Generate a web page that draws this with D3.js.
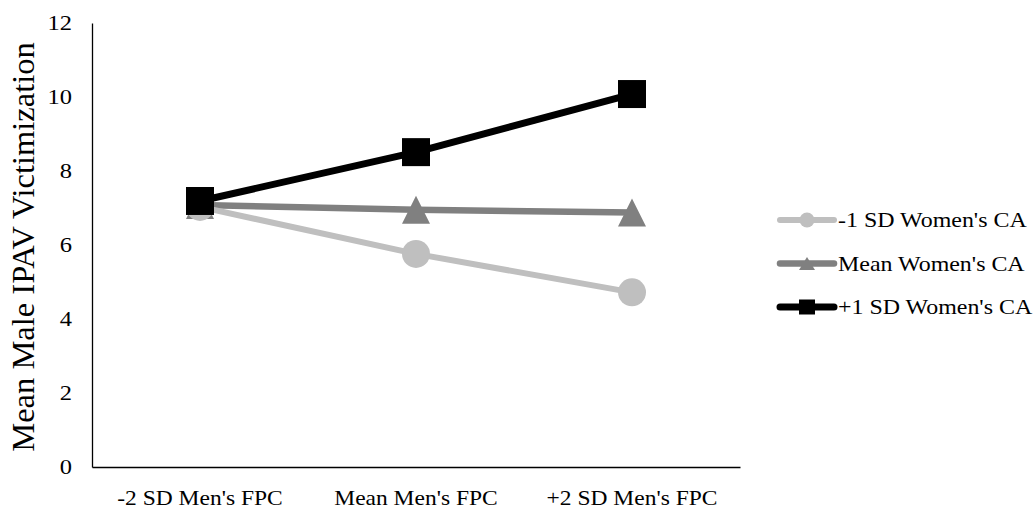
<!DOCTYPE html>
<html><head><meta charset="utf-8">
<script src="https://cdn.jsdelivr.net/npm/d3@7"></script>
<style>body{margin:0;background:#fff}svg{display:block}</style>
</head><body>
<svg id="c" width="1036" height="510"></svg>
<script>
const categories = ["-2 SD Men's FPC", "Mean Men's FPC", "+2 SD Men's FPC"];
const seriesNames = ["-1 SD Women's CA", "Mean Women's CA", "+1 SD Women's CA"];
const lowValues = [7.03, 5.76, 4.72];
const meanValues = [7.08, 6.95, 6.88];
const highValues = [7.19, 8.51, 10.08];
const yTicks = [0, 2, 4, 6, 8, 10, 12];

const FONT = "'Liberation Serif', 'Times New Roman', serif";
const SX = 1.14; // horizontal stretch of text in the reference
const svg = d3.select("#c");
const x = d3.scaleBand().domain(categories).range([92, 740]);
const y = d3.scaleLinear().domain([0, 12]).range([467, 23]);
const cx = d => x(d) + x.bandwidth() / 2;

const series = [
  {name: seriesNames[0], values: lowValues, color: "#bfbfbf", width: 6, shape: "circle"},
  {name: seriesNames[1], values: meanValues, color: "#808080", width: 6.5, shape: "triangle"},
  {name: seriesNames[2], values: highValues, color: "#000000", width: 7, shape: "square"}
];

// axes
const yAxis = d3.axisLeft(y).tickValues(yTicks).tickSize(0).tickPadding(0);
const gy = svg.append("g").attr("transform", "translate(92,0)").call(yAxis)
  .attr("font-family", FONT).attr("font-size", 21.5);
gy.select(".domain").attr("stroke", "#000").attr("stroke-width", 1.3);
gy.selectAll("text").attr("fill", "#000").attr("x", null)
  .attr("transform", `translate(-20,0) scale(${SX},1)`);

const xAxis = d3.axisBottom(x).tickSize(0).tickPadding(23);
const gx = svg.append("g").attr("transform", "translate(0,467)").call(xAxis)
  .attr("font-family", FONT).attr("font-size", 21);
gx.select(".domain").attr("stroke", "#000").attr("stroke-width", 1.3);
gx.selectAll("text").attr("fill", "#000").attr("transform", `scale(1.12,1)`);

svg.append("text").attr("transform", `translate(34,247) rotate(-90)`)
  .attr("text-anchor", "middle").attr("font-size", 32.5).attr("font-family", FONT).attr("fill", "#000")
  .text("Mean Male IPAV Victimization");

function markerPath(shape, w, h) {
  if (shape === "circle") return d3.arc()({innerRadius: 0, outerRadius: w / 2, startAngle: 0, endAngle: 2 * Math.PI});
  if (shape === "triangle") return `M0,${-h / 2}L${w / 2},${h / 2}L${-w / 2},${h / 2}Z`;
  return `M${-w / 2},${-h / 2}h${w}v${h}h${-w}Z`;
}

const line = d3.line().x((d, i) => cx(categories[i])).y(d => y(d));
// draw mean first, then low, then high on top
[series[1], series[0], series[2]].forEach(s => {
  const g = svg.append("g");
  g.append("path").attr("d", line(s.values)).attr("fill", "none")
    .attr("stroke", s.color).attr("stroke-width", s.width).attr("stroke-linejoin", "round");
  g.selectAll("path.m").data(s.values).enter().append("path").attr("class", "m")
    .attr("d", markerPath(s.shape, 28, 28))
    .attr("transform", (d, i) => `translate(${cx(categories[i])},${y(d)})`)
    .attr("fill", s.color);
});

// legend
const lg = svg.append("g");
series.forEach((s, i) => {
  const ly = 220 + i * 43.5;
  lg.append("line").attr("x1", 780).attr("x2", 834).attr("y1", ly).attr("y2", ly)
    .attr("stroke", s.color).attr("stroke-width", s.width).attr("stroke-linecap", "round");
  const w = s.shape === "circle" ? 15 : 16;
  const h = s.shape === "circle" ? 15 : s.shape === "triangle" ? 13 : 15;
  lg.append("path").attr("d", markerPath(s.shape, w, h))
    .attr("transform", `translate(807,${ly})`).attr("fill", s.color);
  lg.append("text").attr("transform", `translate(838,${ly}) scale(${SX},1)`).attr("dy", "0.35em")
    .attr("font-size", 21).attr("font-family", FONT).attr("fill", "#000").text(s.name);
});
</script>
</body></html>
